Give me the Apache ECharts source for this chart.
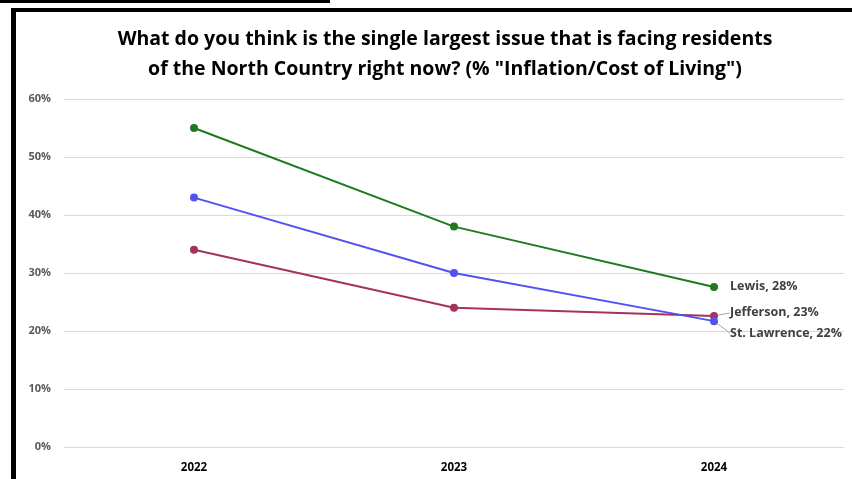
<!DOCTYPE html>
<html>
<head>
<meta charset="utf-8">
<script src="https://cdn.jsdelivr.net/npm/echarts@6/dist/echarts.min.js"></script>
<style>
  html, body { margin: 0; padding: 0; background: #fff; }
  #chart { width: 852px; height: 479px; }
</style>
</head>
<body>
<div id="chart"></div>
<script>
  const years = ['2022', '2023', '2024']
  const lewis = [55, 38, 27.6]
  const jefferson = [34, 24, 22.6]
  const stLawrence = [43, 30, 21.7]
  const endLabels = ['Lewis, 28%', 'Jefferson, 23%', 'St. Lawrence, 22%']

  const font = '"Open Sans", sans-serif'
  let myChart = echarts.init(document.getElementById('chart'))

  function makeSeries(name, values, color, label, dy, guide) {
    let last = values.length - 1
    // only the last point carries a label
    let data = values.map((v, i) => i === last ? {
      value: v,
      label: { show: true, formatter: label },
      labelLine: { show: guide }
    } : v)
    return {
      name: name,
      type: 'line',
      data: data,
      symbol: 'circle',
      symbolSize: 8,
      lineStyle: { color: color, width: 2 },
      itemStyle: { color: color },
      label: {
        show: false,
        position: 'right',
        distance: 12,
        color: '#404040',
        fontFamily: font,
        fontWeight: 'bold',
        fontSize: 12.5
      },
      labelLayout: { dy: dy },
      labelLine: { lineStyle: { color: '#a6a6a6', width: 1 } }
    }
  }

  myChart.setOption({
    animation: false,
    title: {
      text: 'What do you think is the single largest issue that is facing residents\nof the North Country right now? (% "Inflation/Cost of Living")',
      left: 440,
      top: 19,
      textAlign: 'center',
      textStyle: {
        fontFamily: font,
        fontWeight: 'bold',
        fontSize: 19.5,
        lineHeight: 30,
        color: '#000'
      }
    },
    grid: { left: 64, right: 8, top: 99, bottom: 32 },
    xAxis: {
      type: 'category',
      data: years,
      axisLine: { show: false },
      axisTick: { show: false },
      axisLabel: {
        margin: 15,
        color: '#000',
        fontFamily: font,
        fontWeight: 'bold',
        fontSize: 11.5
      }
    },
    yAxis: {
      type: 'value',
      min: 0,
      max: 60,
      interval: 10,
      axisLabel: {
        formatter: '{value}%',
        margin: 13,
        color: '#595959',
        fontFamily: font,
        fontWeight: 'bold',
        fontSize: 11
      },
      splitLine: { lineStyle: { color: '#d9d9d9', width: 1 } }
    },
    series: [
      makeSeries('Lewis', lewis, '#1f7a1f', endLabels[0], 0, false),
      makeSeries('Jefferson', jefferson, '#a3325e', endLabels[1], -3, true),
      makeSeries('St. Lawrence', stLawrence, '#5252f2', endLabels[2], 12, true)
    ],
    graphic: [
      { type: 'rect', shape: { x: 0, y: 0, width: 330, height: 3 }, style: { fill: '#000' } },
      { type: 'rect', shape: { x: 11, y: 8, width: 841, height: 4 }, style: { fill: '#000' } },
      { type: 'rect', shape: { x: 11, y: 8, width: 5, height: 471 }, style: { fill: '#000' } }
    ]
  })
</script>
</body>
</html>
